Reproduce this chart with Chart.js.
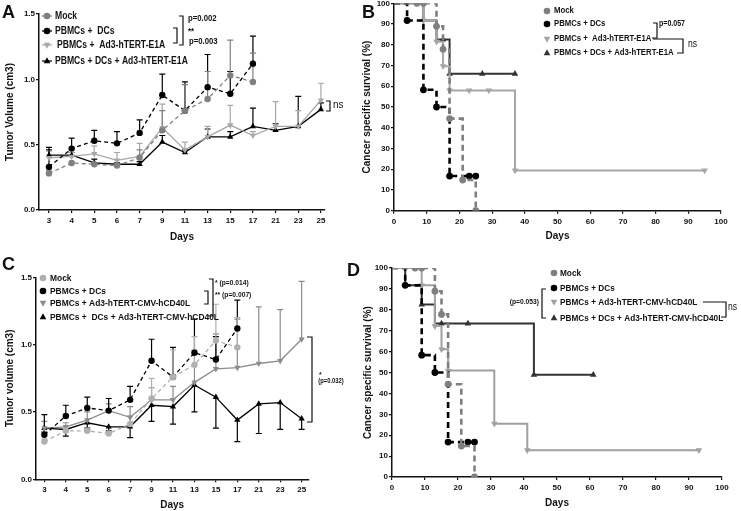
<!DOCTYPE html>
<html>
<head>
<meta charset="utf-8">
<script src="https://cdn.jsdelivr.net/npm/chart.js@4.4.1/dist/chart.umd.min.js"></script>
<style>
body { margin: 0; background: #fff; width: 741px; height: 511px; overflow: hidden; position: relative; font-family: "Liberation Sans", Arial, sans-serif; }
canvas { position: absolute; }
.tag { position: absolute; font-weight: bold; font-size: 18px; line-height: 1; color: #111; }
</style>
</head>
<body>
<canvas id="cA" width="355" height="250" style="left:0;top:0"></canvas>
<canvas id="cB" width="386" height="260" style="left:355px;top:-10px"></canvas>
<canvas id="cC" width="355" height="261" style="left:0;top:250px"></canvas>
<canvas id="cD" width="386" height="261" style="left:355px;top:250px"></canvas>
<div class="tag" style="left:2px;top:3px">A</div>
<div class="tag" style="left:362px;top:3px">B</div>
<div class="tag" style="left:2px;top:255px">C</div>
<div class="tag" style="left:347px;top:261px">D</div>
<script>
// ***** DATA *****
// tumor volume (cm3), mean and SEM, days on a category axis
const days = ['3', '4', '5', '6', '7', '9', '11', '13', '15', '17', '21', '23', '25']

const mockVol = [0.28, 0.36, 0.35, 0.34, 0.40, 0.61, 0.76, 0.85, 1.03, 0.98]
const mockSem = [0.02, 0.01, 0.01, 0.01, 0.06, 0.15, 0.20, 0.21, 0.27, 0.22]
const dcVol = [0.33, 0.47, 0.53, 0.51, 0.59, 0.88, 0.76, 0.94, 0.89, 1.12]
const dcSem = [0.15, 0.08, 0.08, 0.09, 0.10, 0.16, 0.22, 0.25, 0.17, 0.21]

const e1aVol = [0.40, 0.41, 0.43, 0.38, 0.41, 0.63, 0.46, 0.56, 0.65, 0.57, 0.64, 0.64, 0.84]
const e1aSem = [0.05, 0.03, 0.06, 0.06, 0.10, 0.18, 0.06, 0.08, 0.15, 0.03, 0.19, 0.12, 0.13]
const dcE1aVol = [0.42, 0.42, 0.36, 0.35, 0.35, 0.52, 0.44, 0.56, 0.56, 0.64, 0.61, 0.64, 0.77]
const dcE1aSem = [0.04, 0.02, 0.03, 0.01, 0.02, 0.05, 0.02, 0.06, 0.04, 0.14, 0.05, 0.23, 0.05]

const mockVolC = [0.28, 0.36, 0.36, 0.34, 0.41, 0.60, 0.76, 0.85, 1.03, 0.98]
const cd40Vol = [0.38, 0.39, 0.44, 0.51, 0.46, 0.59, 0.59, 0.72, 0.82, 0.83, 0.86, 0.88, 1.04]
const cd40Sem = [0.05, 0.03, 0.06, 0.05, 0.08, 0.09, 0.10, 0.24, 0.26, 0.36, 0.42, 0.38, 0.43]
const dcCd40Vol = [0.38, 0.37, 0.42, 0.39, 0.39, 0.55, 0.54, 0.70, 0.61, 0.44, 0.56, 0.57, 0.45]
const dcCd40Sem = [0.03, 0.05, 0.04, 0.03, 0.08, 0.12, 0.13, 0.20, 0.23, 0.16, 0.22, 0.20, 0.08]

// survival (%), step times in days, 1 = censor tick shown
const kmMockT = [0, 7, 9, 13, 15, 17, 21, 25]
const kmMockS = [100, 100, 100, 88.9, 77.8, 44.4, 14.8, 0]
const kmMockC = [0, 1, 1, 1, 1, 1, 1, 1]
const kmDcT = [0, 4, 9, 13, 17, 23, 25]
const kmDcS = [100, 91.7, 58.3, 50, 16.7, 16.7, 16.7]
const kmDcC = [0, 1, 1, 1, 1, 1, 1]

const kmE1aT = [0, 9, 13, 15, 17, 23, 29, 37, 95]
const kmE1aS = [100, 91.7, 81.5, 69.7, 58, 58, 58, 19.4, 19.4]
const kmE1aC = [0, 1, 1, 1, 1, 1, 1, 1, 1]
const kmDcE1aT = [0, 9, 13, 15, 17, 27, 37]
const kmDcE1aS = [100, 91.7, 82.5, 82.5, 66, 66, 66]
const kmDcE1aC = [0, 0, 0, 1, 1, 1, 1]

const kmCd40T = [0, 9, 13, 15, 17, 31, 41, 93]
const kmCd40S = [100, 91.7, 72.2, 61.1, 50.9, 25.5, 12.8, 12.8]
const kmCd40C = [0, 1, 1, 1, 1, 1, 1, 1]
const kmDcCd40T = [0, 4, 9, 13, 15, 23, 43, 61]
const kmDcCd40S = [100, 91.7, 82.5, 73.4, 73.4, 73.4, 48.9, 48.9]
const kmDcCd40C = [0, 0, 1, 0, 1, 1, 1, 1]

const FONT = '"Liberation Sans", Arial, sans-serif'
const INK = '#111'

// ***** DRAW HELPERS *****
function drawMark(ctx, mk, x, y, r, color) {
	ctx.fillStyle = color
	ctx.beginPath()
	if (mk == 'circle') ctx.arc(x, y, r, 0, Math.PI * 2)
	else if (mk == 'up') {
		ctx.moveTo(x, y - r * 1.1)
		ctx.lineTo(x + r, y + r * 0.7)
		ctx.lineTo(x - r, y + r * 0.7)
	} else {
		ctx.moveTo(x, y + r * 1.1)
		ctx.lineTo(x + r, y - r * 0.7)
		ctx.lineTo(x - r, y - r * 0.7)
	}
	ctx.closePath()
	ctx.fill()
}

// narrow text, the figure's lettering is squeezed sideways
function txt(ctx, s, x, y, size, align, weight) {
	ctx.save()
	ctx.translate(x, y)
	ctx.scale(0.86, 1)
	ctx.font = (weight || 'bold') + ' ' + size + 'px ' + FONT
	ctx.textAlign = align || 'left'
	ctx.textBaseline = 'middle'
	ctx.fillStyle = INK
	ctx.fillText(s, 0, 0)
	ctx.restore()
}

// legend rows, brackets and p values
function makeDeco(cfg) {
	return {
		id: 'deco',
		afterDraw(chart) {
			const ctx = chart.ctx
			chart.data.datasets.forEach((ds, i) => {
				const y = cfg.rows[i]
				if (cfg.stub) {
					ctx.strokeStyle = ds.borderColor
					ctx.lineWidth = 1.2
					ctx.beginPath()
					ctx.moveTo(cfg.mx - 5, y)
					ctx.lineTo(cfg.mx + 5, y)
					ctx.stroke()
				}
				drawMark(ctx, ds.mk, cfg.mx, y, 3.3, ds.borderColor)
				txt(ctx, ds.label, cfg.tx + (cfg.indent ? cfg.indent[i] : 0), y, cfg.size)
			})
			ctx.strokeStyle = INK
			ctx.lineWidth = 1.2
			cfg.paths.forEach((p) => {
				ctx.beginPath()
				ctx.moveTo(p[0], p[1])
				for (let k = 2; k < p.length; k += 2) ctx.lineTo(p[k], p[k + 1])
				ctx.stroke()
			})
			cfg.texts.forEach((t) => txt(ctx, t[0], t[1], t[2], t[3], t[4], t[5]))
		},
	}
}

// SEM whiskers under the lines
const errorBars = {
	id: 'errorBars',
	beforeDatasetsDraw(chart) {
		const ctx = chart.ctx
		const ys = chart.scales.y
		for (let di = chart.data.datasets.length - 1; di >= 0; di--) {
			const ds = chart.data.datasets[di]
			if (!ds.sem) continue
			const meta = chart.getDatasetMeta(di)
			ctx.save()
			ctx.strokeStyle = ds.borderColor
			ctx.lineWidth = 1.2
			meta.data.forEach((pt, i) => {
				const e = ds.sem[i]
				if (!e) return
				const y2 = ys.getPixelForValue(ds.data[i].y + ds.dir * e)
				ctx.beginPath()
				ctx.moveTo(pt.x, pt.y)
				ctx.lineTo(pt.x, y2)
				ctx.moveTo(pt.x - 3, y2)
				ctx.lineTo(pt.x + 3, y2)
				ctx.stroke()
			})
			ctx.restore()
		}
	},
}

function axisBase() {
	return {
		border: { color: INK, width: 1.5 },
		grid: { drawOnChartArea: false, color: INK, tickLength: 3, lineWidth: 1.2 },
		ticks: { color: INK, font: { family: FONT, size: 8, weight: 'bold' }, padding: 1, autoSkip: false },
	}
}

function titleOpts(text, pad) {
	return { display: true, text: text, color: INK, font: { family: FONT, size: 10, weight: 'bold' }, padding: pad }
}

// ***** TUMOR VOLUME CHART *****
function tumorChart(id, sets, o) {
	const x = axisBase()
	Object.assign(x, {
		type: 'linear',
		min: o.xmin,
		max: o.xmax,
		afterBuildTicks: (s) => { s.ticks = days.map((d, i) => ({ value: i })) },
		afterFit: (s) => { s.height = o.xh },
		title: titleOpts('Days', { top: 0, bottom: o.xtp }),
	})
	x.ticks.callback = (v) => days[v]
	x.ticks.padding = 3
	const y = axisBase()
	Object.assign(y, {
		min: 0,
		max: 1.5,
		afterFit: (s) => { s.width = o.yw },
		title: titleOpts(o.ytitle, { top: o.ytp, bottom: 0 }),
	})
	y.ticks.stepSize = 0.5
	y.ticks.callback = (v) => v.toFixed(1)

	return new Chart(document.getElementById(id), {
		type: 'line',
		data: {
			datasets: sets.map((s) => ({
				label: s.label,
				data: s.vals.map((v, i) => ({ x: i, y: v })),
				sem: s.sem,
				dir: s.dir,
				mk: s.mk,
				borderColor: s.color,
				backgroundColor: s.color,
				borderWidth: 1.3,
				borderDash: s.dash ? [4, 3] : [],
				pointStyle: s.mk == 'circle' ? 'circle' : 'triangle',
				pointRotation: s.mk == 'down' ? 180 : 0,
				pointRadius: s.mk == 'circle' ? 3.2 : 3.6,
				pointBorderWidth: 0,
				tension: 0,
			})),
		},
		options: {
			responsive: false,
			animation: false,
			events: [],
			layout: { padding: o.pad },
			scales: { x: x, y: y },
			plugins: { legend: { display: false }, tooltip: { enabled: false } },
		},
		plugins: [errorBars, makeDeco(o.deco)],
	})
}

// ***** SURVIVAL CHART *****
function survivalChart(id, sets, o) {
	const x = axisBase()
	Object.assign(x, {
		type: 'linear',
		min: 0,
		max: 100,
		afterFit: (s) => { s.height = o.xh },
		title: titleOpts('Days', { top: 0, bottom: o.xtp }),
	})
	x.ticks.stepSize = 10
	x.ticks.padding = 3
	const y = axisBase()
	Object.assign(y, {
		min: 0,
		max: 100,
		afterFit: (s) => { s.width = o.yw },
		title: titleOpts('Cancer specific survival (%)', { top: o.ytp, bottom: 0 }),
	})
	y.ticks.stepSize = 10

	return new Chart(document.getElementById(id), {
		type: 'line',
		data: {
			datasets: sets.map((s) => ({
				label: s.label,
				data: s.t.map((t, i) => ({ x: t, y: s.s[i] })),
				mk: s.mk,
				stepped: true,
				borderColor: s.color,
				backgroundColor: s.color,
				borderWidth: s.dash ? 2.6 : 2,
				borderDash: s.dash ? [6, 4] : [],
				pointStyle: s.mk == 'circle' ? 'circle' : 'triangle',
				pointRotation: s.mk == 'down' ? 180 : 0,
				pointRadius: s.c.map((c) => (c ? (s.mk == 'circle' ? 3.4 : 3.8) : 0)),
				pointBorderWidth: 0,
			})),
		},
		options: {
			responsive: false,
			animation: false,
			events: [],
			layout: { padding: o.pad },
			scales: { x: x, y: y },
			plugins: { legend: { display: false }, tooltip: { enabled: false } },
		},
		plugins: [makeDeco(o.deco)],
	})
}

// ***** PANEL A *****
tumorChart('cA', [
	{ label: 'Mock', vals: mockVol, sem: mockSem, dir: 1, color: '#808080', dash: true, mk: 'circle' },
	{ label: 'PBMCs +  DCs', vals: dcVol, sem: dcSem, dir: 1, color: '#000', dash: true, mk: 'circle' },
	{ label: 'PBMCs +  Ad3-hTERT-E1A', vals: e1aVol, sem: e1aSem, dir: 1, color: '#a8a8a8', mk: 'down' },
	{ label: 'PBMCs + DCs + Ad3-hTERT-E1A', vals: dcE1aVol, sem: dcE1aSem, dir: 1, color: '#000', mk: 'up' },
], {
	xmin: -0.44, xmax: 12.18, xh: 40, xtp: 7, yw: 39, ytp: 4.3,
	ytitle: 'Tumor Volume (cm3)',
	pad: { left: 0, top: 14, right: 30, bottom: 0 },
	deco: {
		rows: [16, 31, 45, 61], mx: 47, tx: 55, indent: [0, 0, 2, 0], size: 10, stub: true,
		paths: [
			[179, 16, 183, 16, 183, 45, 179, 45],
			[173, 28, 177, 28, 177, 43, 173, 43],
			[326, 101, 330, 101, 330, 111, 326, 111],
		],
		texts: [
			['p=0.002', 188, 19, 9],
			['**', 188, 32, 9],
			['p=0.003', 189, 42, 9],
			['ns', 333, 105, 11.5, 'left', 'normal'],
		],
	},
})

// ***** PANEL B *****
survivalChart('cB', [
	{ label: 'Mock', t: kmMockT, s: kmMockS, c: kmMockC, color: '#7f7f7f', dash: true, mk: 'circle' },
	{ label: 'PBMCs + DCs', t: kmDcT, s: kmDcS, c: kmDcC, color: '#000', dash: true, mk: 'circle' },
	{ label: 'PBMCs +  Ad3-hTERT-E1A', t: kmE1aT, s: kmE1aS, c: kmE1aC, color: '#a6a6a6', mk: 'down' },
	{ label: 'PBMCs + DCs + Ad3-hTERT-E1A', t: kmDcE1aT, s: kmDcE1aS, c: kmDcE1aC, color: '#333', mk: 'up' },
], {
	xh: 39.3, xtp: 8, yw: 39, ytp: 6.3,
	pad: { left: 0, top: 13.3, right: 20, bottom: 0 },
	deco: {
		rows: [21, 34, 49, 63], mx: 192, tx: 199, size: 9,
		paths: [
			[298, 33, 302, 33, 302, 48, 297, 48],
			[298, 49, 328, 49, 328, 63, 322, 63],
		],
		texts: [
			['p=0.057', 304, 34, 8.2],
			['ns', 333, 54, 10, 'left', 'normal'],
		],
	},
})

// ***** PANEL C *****
tumorChart('cC', [
	{ label: 'Mock', vals: mockVolC, sem: mockSem, dir: 1, color: '#b0b0b0', dash: true, mk: 'circle' },
	{ label: 'PBMCs + DCs', vals: dcVol, sem: dcSem, dir: 1, color: '#000', dash: true, mk: 'circle' },
	{ label: 'PBMCs + Ad3-hTERT-CMV-hCD40L', vals: cd40Vol, sem: cd40Sem, dir: 1, color: '#8c8c8c', mk: 'down' },
	{ label: 'PBMCs +  DCs + Ad3-hTERT-CMV-hCD40L', vals: dcCd40Vol, sem: dcCd40Sem, dir: -1, color: '#000', mk: 'up' },
], {
	xmin: -0.39, xmax: 12.31, xh: 31.7, xtp: 0, yw: 36, ytp: 4.3,
	ytitle: 'Tumor volume (cm3)',
	pad: { left: 0, top: 27.3, right: 46.7, bottom: 0 },
	deco: {
		rows: [28, 41, 53, 67], mx: 43, tx: 50, size: 9.8, stub: false,
		paths: [
			[209, 29, 213, 29, 213, 66, 208, 66],
			[204, 41, 208, 41, 208, 54, 204, 54],
			[307, 87, 312, 87, 312, 172, 307, 172],
		],
		texts: [
			['* (p=0.014)', 215, 33, 7.8],
			['** (p=0.007)', 215, 45, 7.8],
			['*', 319, 125, 8],
			['(p=0.032)', 331, 131, 6.8, 'center'],
		],
	},
})

// ***** PANEL D *****
survivalChart('cD', [
	{ label: 'Mock', t: kmMockT, s: kmMockS, c: kmMockC, color: '#7f7f7f', dash: true, mk: 'circle' },
	{ label: 'PBMCs + DCs', t: kmDcT, s: kmDcS, c: kmDcC, color: '#000', dash: true, mk: 'circle' },
	{ label: 'PBMCs + Ad3-hTERT-CMV-hCD40L', t: kmCd40T, s: kmCd40S, c: kmCd40C, color: '#a0a0a0', mk: 'down' },
	{ label: 'PBMCs + DCs + Ad3-hTERT-CMV-hCD40L', t: kmDcCd40T, s: kmDcCd40S, c: kmDcCd40C, color: '#333', mk: 'up' },
], {
	xh: 34, xtp: 2, yw: 37, ytp: 7.3,
	pad: { left: 0, top: 18, right: 19, bottom: 0 },
	deco: {
		rows: [23, 38, 52, 68], mx: 199, tx: 205, size: 9.6,
		paths: [
			[191, 39, 187, 39, 187, 68, 191, 68],
			[348, 52, 371, 52, 371, 67, 366, 67],
		],
		texts: [
			['(p=0.053)', 184, 52, 7.8, 'right'],
			['ns', 373, 57, 10, 'left', 'normal'],
		],
	},
})
</script>
</body>
</html>
